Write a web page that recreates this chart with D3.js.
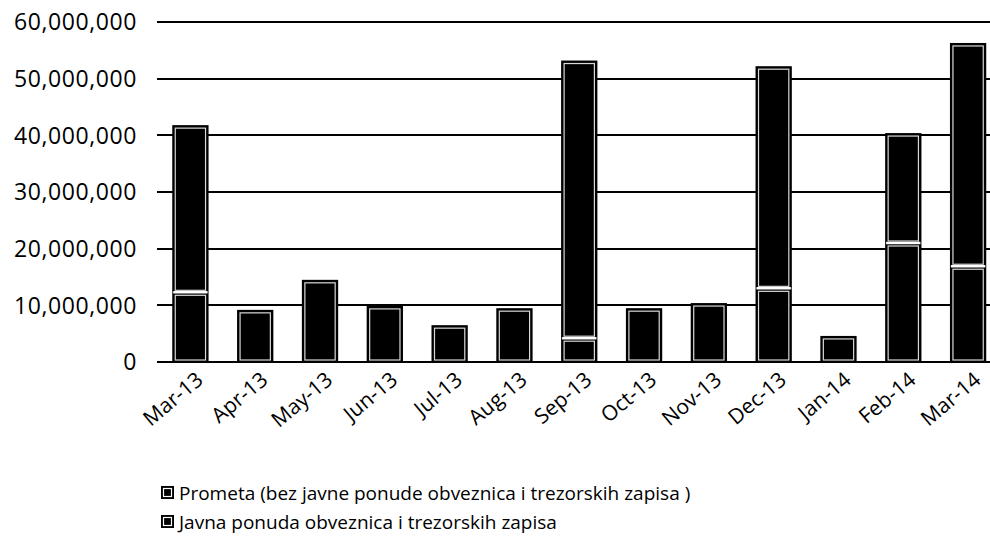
<!DOCTYPE html>
<html><head><meta charset="utf-8">
<script src="https://cdn.jsdelivr.net/npm/d3@7"></script>
<style>body{margin:0;background:#fff}svg{display:block}text{font-family:"Open Sans",sans-serif;fill:#000}</style>
</head><body><svg id="c" width="990" height="541"></svg>
<script>
const categories = ["Mar-13","Apr-13","May-13","Jun-13","Jul-13","Aug-13","Sep-13","Oct-13","Nov-13","Dec-13","Jan-14","Feb-14","Mar-14"];
const prometa = [12300000,9200000,14500000,9900000,6500000,9500000,4200000,9500000,10400000,13000000,4600000,21000000,16900000];
const javna   = [29500000,0,0,0,0,0,49000000,0,0,39200000,0,19400000,39400000];
const yTicks = [0,10000000,20000000,30000000,40000000,50000000,60000000];
const seriesNames = ["Prometa (bez javne ponude obveznica i trezorskih zapisa )","Javna ponuda obveznica i trezorskih zapisa"];

const svg = d3.select("#c");
const y = d3.scaleLinear().domain([0,60000000]).range([362,22]);
const x = d3.scaleBand().domain(categories).range([158,1000.5]).paddingInner(0.44).paddingOuter(0.22);

// gridlines
svg.append("g").selectAll("line").data(yTicks).join("line")
  .attr("x1",157).attr("x2",990).attr("y1",d=>Math.round(y(d))).attr("y2",d=>Math.round(y(d)))
  .attr("stroke","#000").attr("stroke-width",2);

// y labels
svg.append("g").selectAll("text").data(yTicks).join("text")
  .attr("x",137).attr("y",d=>y(d)).attr("dy","0.36em").attr("text-anchor","end")
  .style("font-size","23px").style("font-weight","500").style("letter-spacing","0.6px")
  .text(d=>d3.format(",")(d));

// stacked bars
const rows = categories.map((c,i)=>({c, p:prometa[i], j:javna[i]}));
const stack = d3.stack().keys(["p","j"])(rows);
const g = svg.append("g");
stack.forEach((layer)=>{
  layer.forEach(d=>{
    if (d[1]-d[0] <= 0) return;
    const x0 = x(d.data.c), w = x.bandwidth();
    const y0 = y(d[1]), h = y(d[0]) - y(d[1]);
    g.append("rect").attr("x",x0).attr("y",y0).attr("width",w).attr("height",h)
      .attr("fill","#000");
    g.append("rect").attr("x",x0+3).attr("y",y0+3).attr("width",w-6).attr("height",Math.max(0,h-5))
      .attr("fill","none").attr("stroke","#fff").attr("stroke-width",1.2).attr("stroke-opacity",0.85);
  });
});
// separators between segments
rows.forEach(r=>{
  if (r.j>0){
    g.append("line").attr("x1",x(r.c)+1).attr("x2",x(r.c)+x.bandwidth()-1)
      .attr("y1",y(r.p)).attr("y2",y(r.p)).attr("stroke","#fff").attr("stroke-width",2.5);
  }
});

// x labels
svg.append("g").selectAll("text").data(categories).join("text")
  .attr("text-anchor","end")
  .attr("transform",d=>`translate(${x(d)+x.bandwidth()/2+14},${382}) rotate(-40)`)
  .style("font-size","21px").style("font-weight","500")
  .text(d=>d);

// legend
const lg = svg.append("g");
seriesNames.forEach((n,i)=>{
  const yy = 493 + i*29;
  lg.append("rect").attr("x",161).attr("y",yy-7).attr("width",13).attr("height",13).attr("fill","#000");
  lg.append("rect").attr("x",163.5).attr("y",yy-4.5).attr("width",8).attr("height",8).attr("fill","none").attr("stroke","#fff").attr("stroke-width",1.2);
  lg.append("text").attr("x",179).attr("y",yy).attr("dy","0.35em").style("font-size","19px").style("font-weight","500").text(n);
});
</script></body></html>
